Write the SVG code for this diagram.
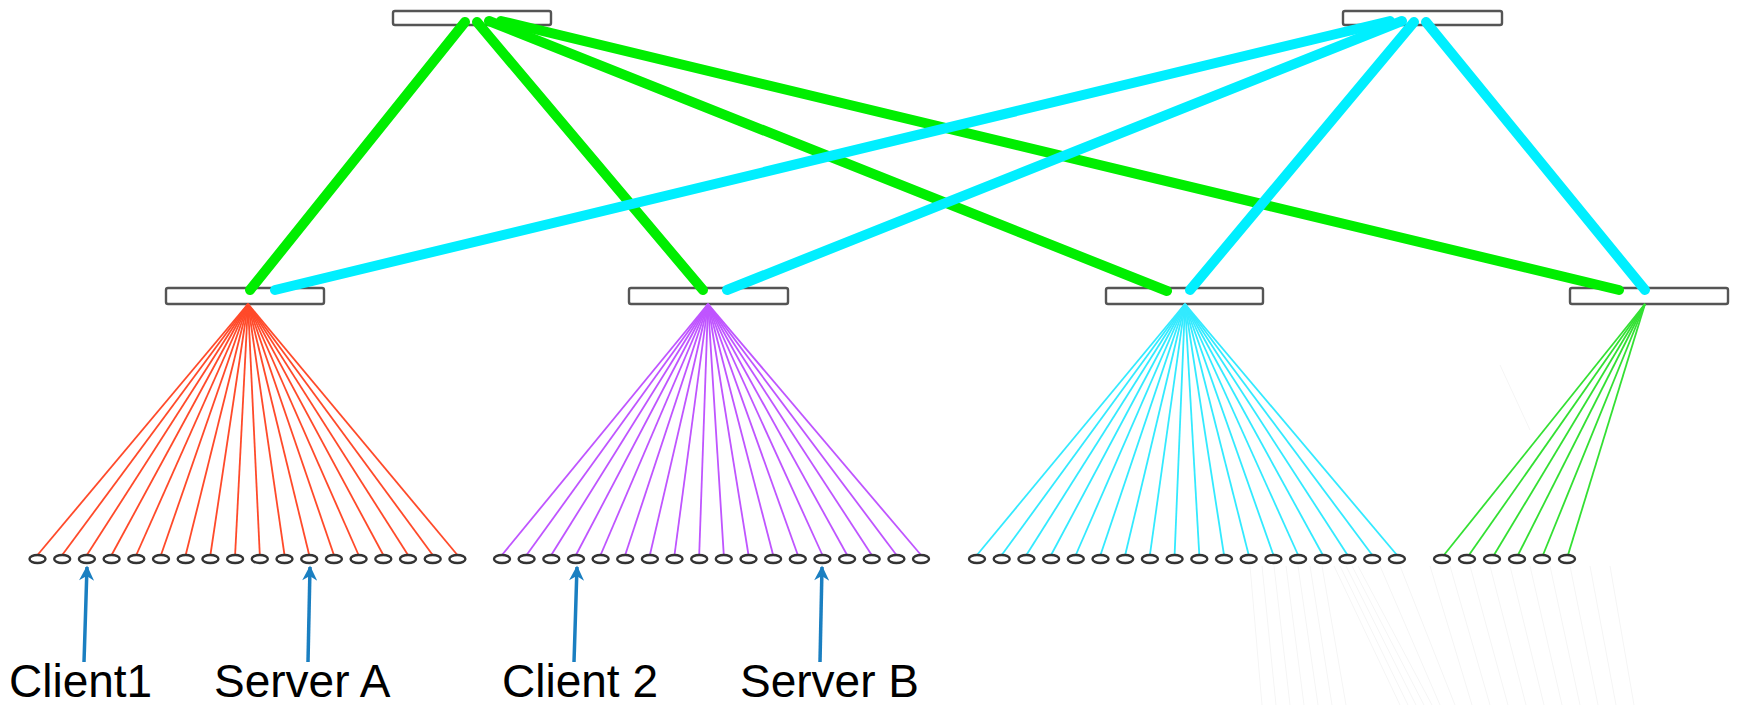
<svg xmlns="http://www.w3.org/2000/svg" width="1737" height="705" viewBox="0 0 1737 705">
<style>
.sw{fill:#ffffff;stroke:#555555;stroke-width:2.4}
.leaf{fill:#ffffff;stroke:#333333;stroke-width:2.4}
.up{stroke-width:10;stroke-linecap:round;fill:none}
.g{stroke:#00ee00}
.c{stroke:#00efff}
.fan{stroke-width:1.8;fill:none}
.fr{stroke:#ff4a2a}
.fp{stroke:#bf55ff}
.fc{stroke:#33eaff}
.fg{stroke:#33e033}
.ghost{stroke:#f5f5f5;stroke-width:1}
.arr{stroke:#1a7fc1;stroke-width:3.5;fill:none}
.lbl{font-family:"Liberation Sans",Arial,sans-serif;font-size:46px;fill:#000000}
</style>
<defs>
<marker id="ah" viewBox="0 0 10 10" refX="9" refY="5" markerWidth="19" markerHeight="15" markerUnits="userSpaceOnUse" orient="auto">
<path d="M0,0 L10,5 L0,10 L3,5 z" fill="#1a7fc1"/>
</marker>
</defs>
<rect width="1737" height="705" fill="#ffffff"/>

<g id="ghost">
<line class="ghost" x1="1250" y1="566" x2="1262" y2="705"/>
<line class="ghost" x1="1262" y1="566" x2="1276" y2="705"/>
<line class="ghost" x1="1274" y1="566" x2="1290" y2="705"/>
<line class="ghost" x1="1286" y1="566" x2="1304" y2="705"/>
<line class="ghost" x1="1298" y1="566" x2="1318" y2="705"/>
<line class="ghost" x1="1310" y1="566" x2="1332" y2="705"/>
<line class="ghost" x1="1322" y1="566" x2="1346" y2="705"/>
<line class="ghost" x1="1334" y1="566" x2="1400" y2="705"/>
<line class="ghost" x1="1340" y1="566" x2="1408" y2="705"/>
<line class="ghost" x1="1346" y1="566" x2="1416" y2="705"/>
<line class="ghost" x1="1352" y1="566" x2="1424" y2="705"/>
<line class="ghost" x1="1358" y1="566" x2="1432" y2="705"/>
<line class="ghost" x1="1380" y1="566" x2="1440" y2="705"/>
<line class="ghost" x1="1400" y1="566" x2="1455" y2="705"/>
<line class="ghost" x1="1430" y1="566" x2="1472" y2="705"/>
<line class="ghost" x1="1450" y1="566" x2="1490" y2="705"/>
<line class="ghost" x1="1470" y1="566" x2="1508" y2="705"/>
<line class="ghost" x1="1490" y1="566" x2="1526" y2="705"/>
<line class="ghost" x1="1510" y1="566" x2="1544" y2="705"/>
<line class="ghost" x1="1530" y1="566" x2="1562" y2="705"/>
<line class="ghost" x1="1550" y1="566" x2="1580" y2="705"/>
<line class="ghost" x1="1570" y1="566" x2="1598" y2="705"/>
<line class="ghost" x1="1590" y1="566" x2="1616" y2="705"/>
<line class="ghost" x1="1610" y1="566" x2="1634" y2="705"/>
<line class="ghost" x1="1500" y1="365" x2="1530" y2="430"/>
</g>

<g id="core1"><rect class="sw" x="393" y="11" width="158" height="14" rx="2"/></g>
<g id="core2"><rect class="sw" x="1343" y="11" width="159" height="14" rx="2"/></g>
<g id="agg1"><rect class="sw" x="166" y="288" width="158" height="16" rx="2"/></g>
<g id="agg2"><rect class="sw" x="629" y="288" width="159" height="16" rx="2"/></g>
<g id="agg3"><rect class="sw" x="1106" y="288" width="157" height="16" rx="2"/></g>
<g id="agg4"><rect class="sw" x="1570" y="288" width="158" height="16" rx="2"/></g>

<g id="connectors">
<line class="up g" x1="465" y1="22" x2="250" y2="290"/>
<line class="up g" x1="477" y1="22" x2="703" y2="290"/>
<line class="up g" x1="489" y1="21" x2="1167" y2="291"/>
<line class="up g" x1="501" y1="21" x2="1619" y2="290"/>
<line class="up c" x1="1390" y1="21" x2="275" y2="290"/>
<line class="up c" x1="1402" y1="21" x2="727" y2="290"/>
<line class="up c" x1="1414" y1="22" x2="1190" y2="290"/>
<line class="up c" x1="1426" y1="22" x2="1645" y2="290"/>

<g class="fan fr">
<line x1="248" y1="304" x2="37.5" y2="555"/>
<line x1="248" y1="304" x2="62.2" y2="555"/>
<line x1="248" y1="304" x2="86.9" y2="555"/>
<line x1="248" y1="304" x2="111.6" y2="555"/>
<line x1="248" y1="304" x2="136.3" y2="555"/>
<line x1="248" y1="304" x2="161" y2="555"/>
<line x1="248" y1="304" x2="185.7" y2="555"/>
<line x1="248" y1="304" x2="210.4" y2="555"/>
<line x1="248" y1="304" x2="235.1" y2="555"/>
<line x1="248" y1="304" x2="259.8" y2="555"/>
<line x1="248" y1="304" x2="284.5" y2="555"/>
<line x1="248" y1="304" x2="309.2" y2="555"/>
<line x1="248" y1="304" x2="333.9" y2="555"/>
<line x1="248" y1="304" x2="358.6" y2="555"/>
<line x1="248" y1="304" x2="383.3" y2="555"/>
<line x1="248" y1="304" x2="408" y2="555"/>
<line x1="248" y1="304" x2="432.7" y2="555"/>
<line x1="248" y1="304" x2="457.4" y2="555"/>
</g>
<g class="fan fp">
<line x1="708" y1="304" x2="502" y2="555"/>
<line x1="708" y1="304" x2="526.6" y2="555"/>
<line x1="708" y1="304" x2="551.3" y2="555"/>
<line x1="708" y1="304" x2="576" y2="555"/>
<line x1="708" y1="304" x2="600.6" y2="555"/>
<line x1="708" y1="304" x2="625.2" y2="555"/>
<line x1="708" y1="304" x2="649.9" y2="555"/>
<line x1="708" y1="304" x2="674.5" y2="555"/>
<line x1="708" y1="304" x2="699.2" y2="555"/>
<line x1="708" y1="304" x2="723.8" y2="555"/>
<line x1="708" y1="304" x2="748.5" y2="555"/>
<line x1="708" y1="304" x2="773.1" y2="555"/>
<line x1="708" y1="304" x2="797.8" y2="555"/>
<line x1="708" y1="304" x2="822.4" y2="555"/>
<line x1="708" y1="304" x2="847.1" y2="555"/>
<line x1="708" y1="304" x2="871.7" y2="555"/>
<line x1="708" y1="304" x2="896.4" y2="555"/>
<line x1="708" y1="304" x2="921" y2="555"/>
</g>
<g class="fan fc">
<line x1="1185" y1="304" x2="977" y2="555"/>
<line x1="1185" y1="304" x2="1001.7" y2="555"/>
<line x1="1185" y1="304" x2="1026.4" y2="555"/>
<line x1="1185" y1="304" x2="1051.1" y2="555"/>
<line x1="1185" y1="304" x2="1075.8" y2="555"/>
<line x1="1185" y1="304" x2="1100.5" y2="555"/>
<line x1="1185" y1="304" x2="1125.2" y2="555"/>
<line x1="1185" y1="304" x2="1149.9" y2="555"/>
<line x1="1185" y1="304" x2="1174.6" y2="555"/>
<line x1="1185" y1="304" x2="1199.3" y2="555"/>
<line x1="1185" y1="304" x2="1224" y2="555"/>
<line x1="1185" y1="304" x2="1248.7" y2="555"/>
<line x1="1185" y1="304" x2="1273.4" y2="555"/>
<line x1="1185" y1="304" x2="1298.1" y2="555"/>
<line x1="1185" y1="304" x2="1322.8" y2="555"/>
<line x1="1185" y1="304" x2="1347.5" y2="555"/>
<line x1="1185" y1="304" x2="1372.2" y2="555"/>
<line x1="1185" y1="304" x2="1396.9" y2="555"/>
</g>
<g class="fan fg">
<line x1="1645" y1="304" x2="1444" y2="555"/>
<line x1="1645" y1="304" x2="1469" y2="555"/>
<line x1="1645" y1="304" x2="1494" y2="555"/>
<line x1="1645" y1="304" x2="1518" y2="555"/>
<line x1="1645" y1="304" x2="1543" y2="555"/>
<line x1="1645" y1="304" x2="1568" y2="555"/>
</g>

<line class="arr" x1="84" y1="662" x2="87" y2="567" marker-end="url(#ah)"/>
<line class="arr" x1="308" y1="662" x2="310" y2="567" marker-end="url(#ah)"/>
<line class="arr" x1="574" y1="662" x2="577" y2="567" marker-end="url(#ah)"/>
<line class="arr" x1="820" y1="662" x2="822" y2="567" marker-end="url(#ah)"/>
</g>

<g id="leaf-r0"><ellipse class="leaf" cx="37.5" cy="559" rx="8" ry="4"/></g>
<g id="leaf-r1"><ellipse class="leaf" cx="62.2" cy="559" rx="8" ry="4"/></g>
<g id="leaf-r2"><ellipse class="leaf" cx="86.9" cy="559" rx="8" ry="4"/></g>
<g id="leaf-r3"><ellipse class="leaf" cx="111.6" cy="559" rx="8" ry="4"/></g>
<g id="leaf-r4"><ellipse class="leaf" cx="136.3" cy="559" rx="8" ry="4"/></g>
<g id="leaf-r5"><ellipse class="leaf" cx="161" cy="559" rx="8" ry="4"/></g>
<g id="leaf-r6"><ellipse class="leaf" cx="185.7" cy="559" rx="8" ry="4"/></g>
<g id="leaf-r7"><ellipse class="leaf" cx="210.4" cy="559" rx="8" ry="4"/></g>
<g id="leaf-r8"><ellipse class="leaf" cx="235.1" cy="559" rx="8" ry="4"/></g>
<g id="leaf-r9"><ellipse class="leaf" cx="259.8" cy="559" rx="8" ry="4"/></g>
<g id="leaf-r10"><ellipse class="leaf" cx="284.5" cy="559" rx="8" ry="4"/></g>
<g id="leaf-r11"><ellipse class="leaf" cx="309.2" cy="559" rx="8" ry="4"/></g>
<g id="leaf-r12"><ellipse class="leaf" cx="333.9" cy="559" rx="8" ry="4"/></g>
<g id="leaf-r13"><ellipse class="leaf" cx="358.6" cy="559" rx="8" ry="4"/></g>
<g id="leaf-r14"><ellipse class="leaf" cx="383.3" cy="559" rx="8" ry="4"/></g>
<g id="leaf-r15"><ellipse class="leaf" cx="408" cy="559" rx="8" ry="4"/></g>
<g id="leaf-r16"><ellipse class="leaf" cx="432.7" cy="559" rx="8" ry="4"/></g>
<g id="leaf-r17"><ellipse class="leaf" cx="457.4" cy="559" rx="8" ry="4"/></g>

<g id="leaf-p0"><ellipse class="leaf" cx="502" cy="559" rx="8" ry="4"/></g>
<g id="leaf-p1"><ellipse class="leaf" cx="526.6" cy="559" rx="8" ry="4"/></g>
<g id="leaf-p2"><ellipse class="leaf" cx="551.3" cy="559" rx="8" ry="4"/></g>
<g id="leaf-p3"><ellipse class="leaf" cx="576" cy="559" rx="8" ry="4"/></g>
<g id="leaf-p4"><ellipse class="leaf" cx="600.6" cy="559" rx="8" ry="4"/></g>
<g id="leaf-p5"><ellipse class="leaf" cx="625.2" cy="559" rx="8" ry="4"/></g>
<g id="leaf-p6"><ellipse class="leaf" cx="649.9" cy="559" rx="8" ry="4"/></g>
<g id="leaf-p7"><ellipse class="leaf" cx="674.5" cy="559" rx="8" ry="4"/></g>
<g id="leaf-p8"><ellipse class="leaf" cx="699.2" cy="559" rx="8" ry="4"/></g>
<g id="leaf-p9"><ellipse class="leaf" cx="723.8" cy="559" rx="8" ry="4"/></g>
<g id="leaf-p10"><ellipse class="leaf" cx="748.5" cy="559" rx="8" ry="4"/></g>
<g id="leaf-p11"><ellipse class="leaf" cx="773.1" cy="559" rx="8" ry="4"/></g>
<g id="leaf-p12"><ellipse class="leaf" cx="797.8" cy="559" rx="8" ry="4"/></g>
<g id="leaf-p13"><ellipse class="leaf" cx="822.4" cy="559" rx="8" ry="4"/></g>
<g id="leaf-p14"><ellipse class="leaf" cx="847.1" cy="559" rx="8" ry="4"/></g>
<g id="leaf-p15"><ellipse class="leaf" cx="871.7" cy="559" rx="8" ry="4"/></g>
<g id="leaf-p16"><ellipse class="leaf" cx="896.4" cy="559" rx="8" ry="4"/></g>
<g id="leaf-p17"><ellipse class="leaf" cx="921" cy="559" rx="8" ry="4"/></g>

<g id="leaf-c0"><ellipse class="leaf" cx="977" cy="559" rx="8" ry="4"/></g>
<g id="leaf-c1"><ellipse class="leaf" cx="1001.7" cy="559" rx="8" ry="4"/></g>
<g id="leaf-c2"><ellipse class="leaf" cx="1026.4" cy="559" rx="8" ry="4"/></g>
<g id="leaf-c3"><ellipse class="leaf" cx="1051.1" cy="559" rx="8" ry="4"/></g>
<g id="leaf-c4"><ellipse class="leaf" cx="1075.8" cy="559" rx="8" ry="4"/></g>
<g id="leaf-c5"><ellipse class="leaf" cx="1100.5" cy="559" rx="8" ry="4"/></g>
<g id="leaf-c6"><ellipse class="leaf" cx="1125.2" cy="559" rx="8" ry="4"/></g>
<g id="leaf-c7"><ellipse class="leaf" cx="1149.9" cy="559" rx="8" ry="4"/></g>
<g id="leaf-c8"><ellipse class="leaf" cx="1174.6" cy="559" rx="8" ry="4"/></g>
<g id="leaf-c9"><ellipse class="leaf" cx="1199.3" cy="559" rx="8" ry="4"/></g>
<g id="leaf-c10"><ellipse class="leaf" cx="1224" cy="559" rx="8" ry="4"/></g>
<g id="leaf-c11"><ellipse class="leaf" cx="1248.7" cy="559" rx="8" ry="4"/></g>
<g id="leaf-c12"><ellipse class="leaf" cx="1273.4" cy="559" rx="8" ry="4"/></g>
<g id="leaf-c13"><ellipse class="leaf" cx="1298.1" cy="559" rx="8" ry="4"/></g>
<g id="leaf-c14"><ellipse class="leaf" cx="1322.8" cy="559" rx="8" ry="4"/></g>
<g id="leaf-c15"><ellipse class="leaf" cx="1347.5" cy="559" rx="8" ry="4"/></g>
<g id="leaf-c16"><ellipse class="leaf" cx="1372.2" cy="559" rx="8" ry="4"/></g>
<g id="leaf-c17"><ellipse class="leaf" cx="1396.9" cy="559" rx="8" ry="4"/></g>

<g id="leaf-g0"><ellipse class="leaf" cx="1442" cy="559" rx="8" ry="4"/></g>
<g id="leaf-g1"><ellipse class="leaf" cx="1467" cy="559" rx="8" ry="4"/></g>
<g id="leaf-g2"><ellipse class="leaf" cx="1492" cy="559" rx="8" ry="4"/></g>
<g id="leaf-g3"><ellipse class="leaf" cx="1517" cy="559" rx="8" ry="4"/></g>
<g id="leaf-g4"><ellipse class="leaf" cx="1542" cy="559" rx="8" ry="4"/></g>
<g id="leaf-g5"><ellipse class="leaf" cx="1567" cy="559" rx="8" ry="4"/></g>

<g id="labels">
<text class="lbl" x="9" y="697">Client1</text>
<text class="lbl" x="214" y="697">Server A</text>
<text class="lbl" x="502" y="697">Client 2</text>
<text class="lbl" x="740" y="697">Server B</text>
</g>
</svg>
